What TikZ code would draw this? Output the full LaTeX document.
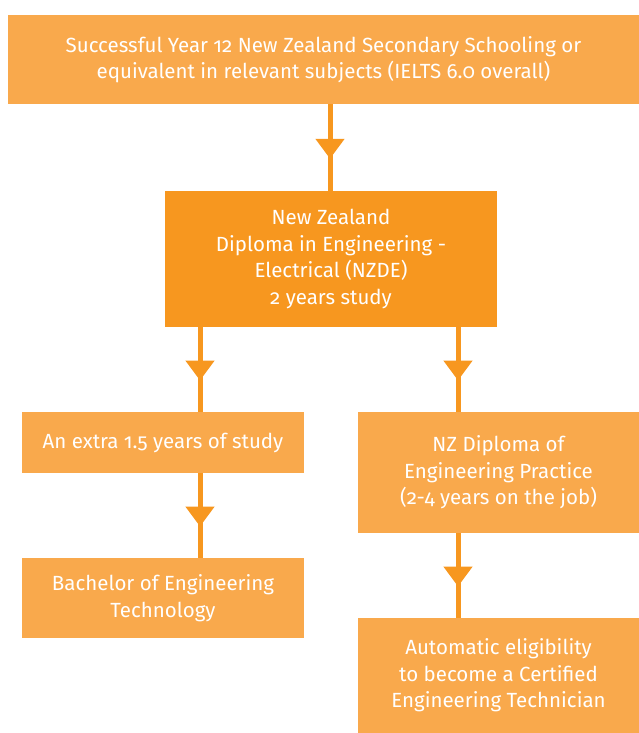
\documentclass[tikz,border=0pt]{standalone}
\usepackage{fontspec}
\setmainfont{Fira Sans}[Numbers=OldStyle]
\usepackage{xcolor}
\usetikzlibrary{arrows.meta}
\usetikzlibrary{decorations.markings}
\definecolor{lorange}{HTML}{F9A94C}
\definecolor{dorange}{HTML}{F7971F}
\tikzstyle{box}=[fill=lorange,text=white,align=center,inner sep=0pt,font=\fontsize{20.5}{26.5}\selectfont]
\tikzstyle{flow}=[line width=5pt,draw=dorange,decoration={markings,mark=at position .63 with {\arrow[dorange]{Triangle[length=20pt,width=28pt]}}},postaction=decorate]
\begin{document}
\begin{tikzpicture}[x=1pt,y=-1pt]
	\useasboundingbox (0,0) rectangle (639,733);
	\node[box,minimum width=631pt,minimum height=89pt] (top) at (323.5,59.5)
	  {Successful Year 12 New Zealand Secondary Schooling or\\equivalent in relevant subjects (IELTS 6.0 overall)};
	\node[box,fill=dorange,minimum width=332pt,minimum height=136pt] (nzde) at (331,259)
	  {New Zealand\\Diploma in Engineering -\\Electrical (NZDE)\\2 years study};
	\node[box,minimum width=282pt,minimum height=61pt] (extra) at (163,442.5) {An extra 1.5 years of study};
	\node[box,minimum width=281pt,minimum height=121pt] (prac) at (498.5,472.5)
	  {NZ Diploma of\\Engineering Practice\\(2-4 years on the job)};
	\node[box,minimum width=282pt,minimum height=80pt] (bach) at (163,598) {Bachelor of Engineering\\Technology};
	\node[box,minimum width=281pt,minimum height=115pt] (cert) at (498.5,675.5)
	  {Automatic eligibility\\to become a Certified\\Engineering Technician};
	\coordinate (cm) at (330,0);
	\coordinate (cl) at (200,0);
	\coordinate (cr) at (458,0);
	\draw[flow] (top.south -| cm) -- (nzde.north -| cm);
	\draw[flow] (nzde.south -| cl) -- (extra.north -| cl);
	\draw[flow] (nzde.south -| cr) -- (prac.north -| cr);
	\draw[flow] (extra.south -| cl) -- (bach.north -| cl);
	\draw[flow] (prac.south -| cr) -- (cert.north -| cr);
\end{tikzpicture}
\end{document}
